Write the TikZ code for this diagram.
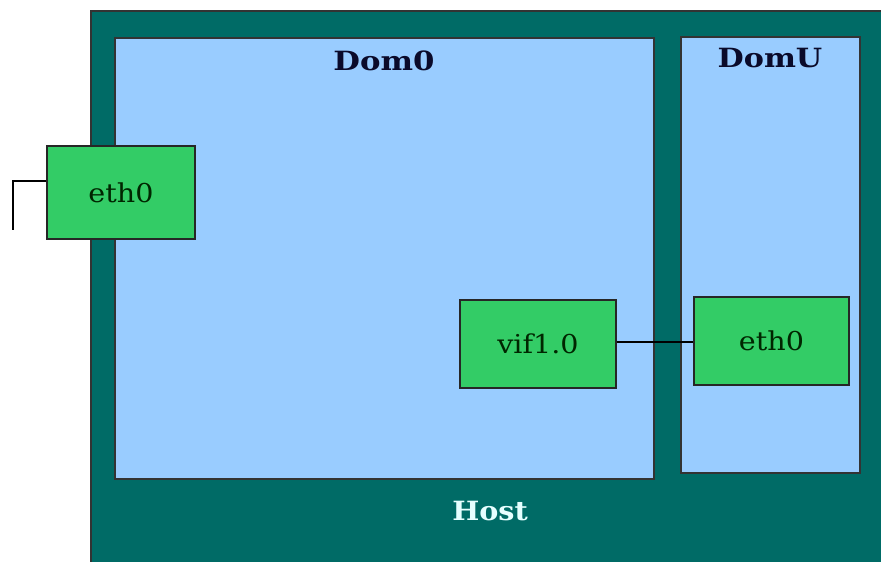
\documentclass[tikz,border=0pt]{standalone}
\usepackage{graphicx}
\usepackage{fontspec}
\setmainfont{DejaVu Serif}
\definecolor{hostteal}{HTML}{006B66}
\definecolor{domblue}{HTML}{99CCFF}
\definecolor{nicgreen}{HTML}{33CC66}
\definecolor{titleink}{HTML}{0A0A2A}
\definecolor{hostink}{HTML}{E6FFFF}
% labels are set a little wide
\newcommand{\widetext}[2]{\scalebox{#1}[1]{#2}}
\begin{document}
\begin{tikzpicture}[x=1pt,y=-1pt,
  hostbox/.style={fill=hostteal,draw=black!80,line width=1.2pt},
  dombox/.style={fill=domblue,draw=black!80,line width=1.2pt},
  nic/.style={fill=nicgreen,draw=black!85,line width=1.2pt,inner sep=0pt,
    font=\fontsize{26}{30}\selectfont,text=black!85!green},
  title/.style={font=\fontsize{26.5}{30}\selectfont\bfseries},
  wire/.style={draw=black,line width=1.2pt}]
\useasboundingbox (0,0) rectangle (881,562);
% host machine and its two domains
\draw[hostbox] (91,11) rectangle (885,566);
\draw[dombox] (115,38) rectangle (654,479);
\draw[dombox] (681,37) rectangle (860,473);
\node[title,text=titleink] (dom0t) at (384,61) {\widetext{1.16}{Dom0}};
\node[title,text=titleink] (domut) at (770,58) {\widetext{1.14}{DomU}};
\node[title,text=hostink] (hostt) at (490,511) {\widetext{1.08}{Host}};
% network interfaces
\node[nic,minimum width=148pt,minimum height=93pt] (eth0) at (121,192.5) {\widetext{1.1}{eth0}};
\node[nic,minimum width=156pt,minimum height=88pt] (vif) at (538,344) {\widetext{1.1}{vif1.0}};
\node[nic,minimum width=155pt,minimum height=88pt] (ueth) at (771.5,341) {\widetext{1.1}{eth0}};
% connections
\coordinate (uplink) at (13,230);
\draw[wire] (vif.east |- 0,342) -- (ueth.west |- 0,342);
\draw[wire] (eth0.west |- 0,181) -| (uplink);
\end{tikzpicture}
\end{document}
